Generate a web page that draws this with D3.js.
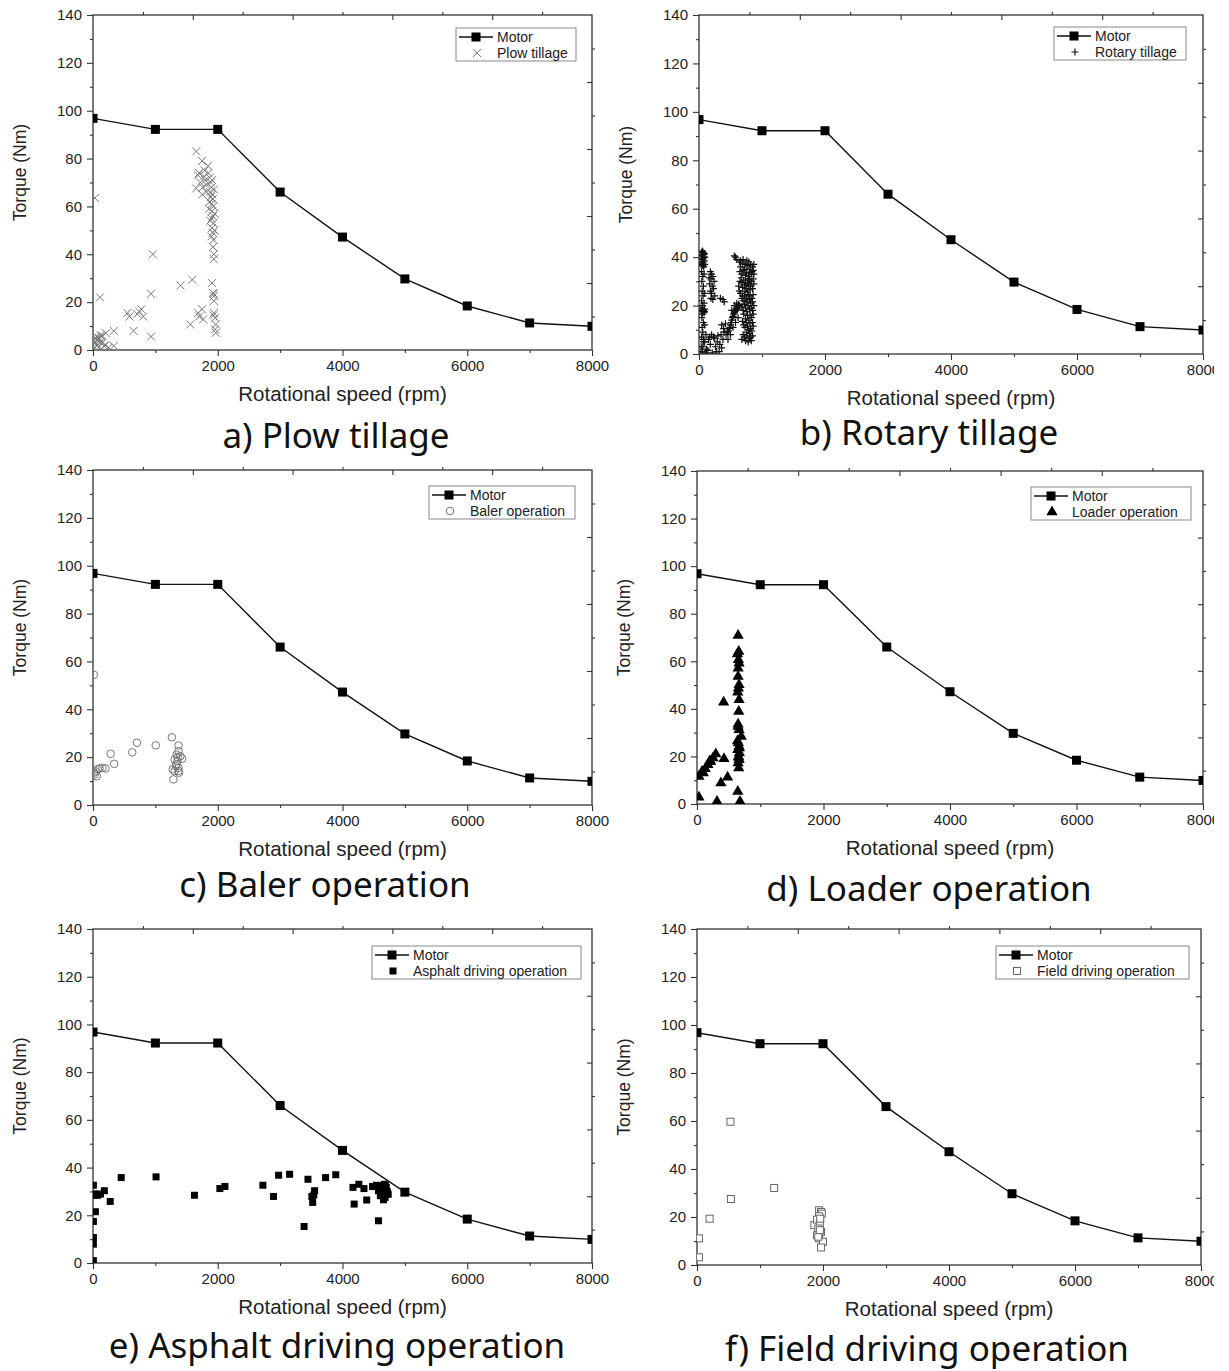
<!DOCTYPE html>
<html>
<head>
<meta charset="utf-8">
<script src="https://cdn.jsdelivr.net/npm/d3@7"></script>
<style>
  body { margin: 0; background: #fff; }
  svg { display: block; }
</style>
</head>
<body>
<div id="chart"></div>
<script>
// Motor torque curve (same in every panel)
const motorSpeed = [0, 1000, 2000, 3000, 4000, 5000, 6000, 7000, 8000];
const motorTorque = [96.8, 92.2, 92.2, 66, 47.2, 29.7, 18.4, 11.3, 9.9];

const xMajorTicks = [0, 2000, 4000, 6000, 8000];
const xMinorTicks = [1000, 3000, 5000, 7000];
const yMajorTicks = [0, 20, 40, 60, 80, 100, 120, 140];
const yMinorTicks = [10, 30, 50, 70, 90, 110, 130];

// operation points, [rpm, Nm]
const plowPoints = [
  [30, 63.5], [110, 22], [960, 40], [930, 23.5], [930, 5.6], [650, 8], [553, 15.5], [585, 14],
  [742, 16], [773, 17], [710, 15], [805, 14], [333, 8], [207, 7], [145, 6], [50, 4.5],
  [333, 1.7], [176, 1.7], [20, 3], [40, 5], [60, 5.5], [80, 4], [100, 5], [120, 6],
  [150, 3], [70, 2], [30, 1], [90, 1], [10, 4], [50, 2.5], [200, 2], [250, 1], [130, 3.5],
  [1402, 27], [1591, 29.4], [1560, 10.7], [1686, 15.5], [1748, 17], [1767, 12.8], [1700, 14],
  [1654, 83], [1748, 79], [1843, 77], [1686, 73], [1780, 72.5], [1654, 67.5], [1720, 70],
  [1760, 68], [1800, 71], [1820, 69], [1850, 74], [1870, 72], [1890, 70], [1900, 68],
  [1880, 66], [1910, 65], [1920, 63], [1900, 61], [1930, 60], [1910, 58], [1920, 56],
  [1900, 55], [1930, 53], [1910, 51], [1920, 49], [1900, 47.5], [1930, 46], [1925, 43],
  [1937, 40], [1937, 38], [1890, 64], [1940, 67], [1870, 62], [1950, 57], [1860, 59],
  [1945, 50], [1880, 54], [1910, 71], [1820, 66], [1790, 75], [1700, 74], [1750, 65],
  [1906, 28], [1937, 23.5], [1937, 22.5], [1937, 20.5], [1937, 15.5], [1956, 13.5],
  [1969, 10.7], [1956, 8.6], [1969, 7.2], [1930, 14.5], [1925, 23.8]
];

const rotaryPoints = [
  [40, 42], [60, 41], [80, 40], [50, 39], [70, 38], [90, 37], [60, 36.5], [45, 40.5], [85, 41.5], [75, 36],
  [35, 41], [55, 42.5], [65, 39.5], [85, 38.5], [45, 37], [75, 41], [55, 37.5], [90, 40], [35, 38], [65, 42],
  [70, 18], [80, 17], [60, 17.5], [90, 18.5], [40, 18], [50, 16.5], [85, 17.5],
  [40, 34], [60, 32], [45, 30], [70, 28], [50, 26], [65, 24], [40, 22], [80, 21], [55, 20], [45, 15],
  [70, 13], [50, 11], [60, 9], [40, 7], [75, 5], [35, 3], [55, 1], [80, 33], [85, 25], [30, 19], [90, 12],
  [180, 34], [200, 33], [220, 32], [190, 31], [240, 30], [170, 29], [210, 28], [230, 27], [180, 26],
  [200, 25], [250, 24], [190, 23], [220, 22.5], [160, 31.5],
  [30, 1], [60, 3], [90, 5], [120, 2], [150, 6], [180, 4], [200, 8], [230, 7], [260, 3], [290, 5],
  [320, 1], [350, 8], [380, 6], [100, 0.5], [140, 1.5], [210, 0.5], [250, 6.5], [300, 7.5], [330, 4],
  [170, 7], [110, 8], [70, 6], [400, 9], [360, 2.5], [280, 1],
  [340, 23], [380, 22.5], [400, 21.5], [360, 12], [390, 10.5], [420, 12.5],
  [450, 9], [480, 10.5], [500, 12], [520, 14], [540, 15.5], [560, 17], [580, 18], [600, 19],
  [620, 19.5], [640, 20], [520, 18], [560, 20], [600, 21],
  [430, 8], [470, 9.5], [490, 11], [510, 13], [530, 15], [550, 16.5], [570, 17.5], [590, 18.5],
  [610, 18.5], [630, 20.5], [460, 6], [500, 8], [540, 11], [580, 13], [620, 15],
  [560, 40.5], [580, 40], [600, 39],
  [640, 38], [700, 39], [760, 38.5], [820, 37], [660, 36], [720, 35], [780, 36.5], [840, 34],
  [680, 33], [740, 32.5], [800, 33.5], [860, 31], [650, 30], [710, 30.5], [770, 29], [830, 30],
  [870, 29], [690, 27.5], [750, 27], [810, 26.5], [660, 25], [720, 24], [780, 24.5], [840, 23],
  [700, 22], [760, 21.5], [820, 21], [680, 19.5], [740, 19], [800, 18.5], [850, 18], [710, 16.5],
  [770, 16], [830, 15], [690, 13.5], [750, 13], [810, 12.5], [730, 11], [790, 10], [840, 9.5],
  [700, 8], [760, 7.5], [820, 7], [680, 6], [740, 5.5], [800, 6.5], [860, 11.5], [630, 28],
  [650, 34], [850, 27], [870, 20], [720, 28.5], [780, 31], [760, 35],
  [660, 38.5], [690, 37.5], [730, 37], [790, 38], [810, 35], [850, 36], [670, 31.5], [700, 34.5],
  [750, 33.5], [790, 32], [830, 33], [860, 34.5], [640, 26], [680, 29.5], [730, 26], [790, 28],
  [820, 28.5], [860, 24.5], [690, 24], [750, 23], [800, 22.5], [850, 21.5], [720, 20.5], [780, 20],
  [830, 19], [860, 16.5], [700, 18], [760, 17.5], [810, 16], [740, 14.5], [790, 14], [850, 13],
  [710, 12], [770, 11.5], [820, 10.5], [760, 9], [800, 8.5], [850, 7.5], [720, 7], [780, 5],
  [830, 5.5], [870, 37], [870, 33], [740, 29.5], [800, 30.5], [680, 23], [770, 25.5], [730, 22], [810, 24]
];

const balerPoints = [
  [13, 54.4], [30, 12.8], [44, 14], [75, 15], [107, 15.3], [151, 15.5], [200, 15.3], [63, 12],
  [13, 13.5], [283, 21.4], [340, 17.2], [629, 22], [704, 26], [1006, 24.9], [1264, 28.3],
  [1289, 10.7], [1277, 14.9], [1371, 24.9], [1371, 22.5], [1340, 21], [1400, 20.4], [1308, 19],
  [1428, 19.4], [1340, 17], [1371, 15.5], [1371, 14.2], [1327, 16.3], [1352, 18.3], [1308, 14.2],
  [1355, 20], [1380, 13.5]
];

const loaderPoints = [
  [31, 2.8], [31, 11.6], [80, 13.7], [130, 14.8], [173, 16.5], [217, 17.9], [254, 19.3], [297, 21],
  [316, 1.1], [378, 8.8], [421, 42.8], [427, 19], [483, 11.2], [650, 70.8], [660, 64.1], [640, 63.1],
  [655, 60.6], [665, 59.2], [650, 57.1], [650, 53.6], [665, 50.1], [655, 48.7], [645, 47],
  [665, 43.8], [660, 38.9], [650, 32.6], [665, 31.2], [700, 28.4], [655, 25.6], [665, 24.2],
  [645, 22.8], [670, 21.4], [655, 20], [665, 18.6], [650, 17.2], [660, 15.1], [645, 5.3],
  [680, 1.1], [640, 26.5], [670, 23.5], [100, 13], [200, 18], [660, 19.5], [650, 33.5]
];

const asphaltPoints = [
  [6, 32.6], [13, 28.4], [38, 21.5], [6, 17.4], [6, 10.7], [6, 7.9], [6, 1], [75, 28.4], [119, 28.9],
  [182, 30.3], [276, 25.8], [452, 35.8], [1011, 36.1], [1626, 28.4], [2034, 31.2], [2115, 32.1],
  [2724, 32.6], [2894, 27.9], [2976, 36.8], [3152, 37.2], [3384, 15.3], [3446, 35.1], [3509, 27.9],
  [3522, 25.4], [3553, 30.3], [3540, 28.5], [3729, 35.8], [3892, 37], [4168, 31.7], [4187, 24.7],
  [4262, 33], [4344, 31.2], [4388, 26.4], [4482, 32.1], [4576, 17.7], [4545, 32.6], [4607, 32.4],
  [4670, 33], [4702, 31.7], [4576, 30.3], [4639, 29.6], [4720, 29.8], [4607, 28.2], [4683, 27.5],
  [4658, 26.5], [4733, 28.8], [4520, 32], [4690, 32.4], [25, 29]
];

const fieldPoints = [
  [31, 11.1], [31, 3.2], [200, 19.3], [531, 59.7], [538, 27.5], [1225, 32.1], [1863, 16.6],
  [1938, 22.8], [1969, 22.1], [1981, 21.4], [1938, 20.3], [1906, 18.9], [1950, 17.3], [1925, 15.2],
  [1969, 13.8], [1906, 12.4], [1938, 11.1], [2000, 9.7], [1969, 7.3], [1925, 11.8], [1956, 19.3],
  [1950, 14.5]
];

// panel layout: frame = [left, top, width, height], legend = [x, y, width], title_at = [cx, baseline]
const panels = [
  { id: 'a', title: 'a) Plow tillage', name: 'Plow tillage', points: plowPoints, marker: 'x',
    frame: [93, 15, 499, 335], legend: [456, 28, 120], title_at: [336, 448] },
  { id: 'b', title: 'b) Rotary tillage', name: 'Rotary tillage', points: rotaryPoints, marker: 'plus',
    frame: [699, 15, 504, 339], legend: [1054, 27, 132], title_at: [929, 445] },
  { id: 'c', title: 'c) Baler operation', name: 'Baler operation', points: balerPoints, marker: 'circle',
    frame: [93, 470, 499, 335], legend: [429, 486, 146], title_at: [325, 897] },
  { id: 'd', title: 'd) Loader operation', name: 'Loader operation', points: loaderPoints, marker: 'triangle',
    frame: [697, 471, 506, 333], legend: [1031, 487, 160], title_at: [929, 901] },
  { id: 'e', title: 'e) Asphalt driving operation', name: 'Asphalt driving operation', points: asphaltPoints, marker: 'square',
    frame: [93, 929, 499, 334], legend: [372, 946, 209], title_at: [337, 1358] },
  { id: 'f', title: 'f) Field driving operation', name: 'Field driving operation', points: fieldPoints, marker: 'open-square',
    frame: [697, 929, 504, 336], legend: [996, 946, 193], title_at: [927, 1361] }
];

const svg = d3.select('#chart').append('svg')
  .attr('width', 1214)
  .attr('height', 1371);

const axisFont = '"Liberation Sans", Arial, sans-serif';

function drawMarker(sel, type) {
  if (type === 'x') {
    sel.append('path').attr('d', 'M-4,-4L4,4M-4,4L4,-4')
      .attr('fill', 'none').attr('stroke', '#7a7a7a').attr('stroke-width', 1);
  } else if (type === 'plus') {
    sel.append('path').attr('d', 'M-3.5,0H3.5M0,-3.5V3.5')
      .attr('fill', 'none').attr('stroke', '#111').attr('stroke-width', 1.2);
  } else if (type === 'circle') {
    sel.append('circle').attr('r', 3.8)
      .attr('fill', 'none').attr('stroke', '#777').attr('stroke-width', 1);
  } else if (type === 'triangle') {
    sel.append('path').attr('d', d3.symbol(d3.symbolTriangle, 55)())
      .attr('fill', '#000');
  } else if (type === 'square') {
    sel.append('rect').attr('x', -3.5).attr('y', -3.5).attr('width', 7).attr('height', 7)
      .attr('fill', '#000');
  } else if (type === 'open-square') {
    sel.append('rect').attr('x', -3.5).attr('y', -3.5).attr('width', 7).attr('height', 7)
      .attr('fill', '#fff').attr('stroke', '#666').attr('stroke-width', 1);
  } else if (type === 'motor') {
    sel.append('rect').attr('x', -4.5).attr('y', -4.5).attr('width', 9).attr('height', 9)
      .attr('fill', '#000');
  }
}

function styleAxis(g) {
  g.select('.domain').remove();
  g.selectAll('.tick line').attr('stroke', '#333').attr('stroke-width', 1.1);
  g.selectAll('.tick text')
    .attr('fill', '#222')
    .style('font-family', axisFont)
    .style('font-size', '15px');
}

panels.forEach(p => {
  const [left, top, w, h] = p.frame;
  const x = d3.scaleLinear().domain([0, 8000]).range([left, left + w]);
  const y = d3.scaleLinear().domain([0, 140]).range([top + h, top]);
  // second (overlay) layer scales, only ticks on the top and right edges
  const x2 = d3.scaleLinear().domain([0, 10]).range([left, left + w]);
  const y2 = d3.scaleLinear().domain([0, 10]).range([top + h, top]);

  const g = svg.append('g').attr('class', 'panel-' + p.id);

  // bottom axis
  g.append('g').attr('transform', `translate(0,${top + h})`)
    .call(d3.axisBottom(x).tickValues(xMajorTicks).tickSize(6).tickPadding(4).tickFormat(d3.format('d')))
    .call(styleAxis);
  g.append('g').attr('transform', `translate(0,${top + h})`)
    .call(d3.axisBottom(x).tickValues(xMinorTicks).tickSize(3).tickFormat(''))
    .call(styleAxis);

  // left axis
  g.append('g').attr('transform', `translate(${left},0)`)
    .call(d3.axisLeft(y).tickValues(yMajorTicks).tickSize(6).tickPadding(5).tickFormat(d3.format('d')))
    .call(styleAxis);
  g.append('g').attr('transform', `translate(${left},0)`)
    .call(d3.axisLeft(y).tickValues(yMinorTicks).tickSize(3).tickFormat(''))
    .call(styleAxis);

  // top and right axes (overlay layer)
  g.append('g').attr('transform', `translate(0,${top})`)
    .call(d3.axisTop(x2).tickValues([2, 4, 6, 8]).tickSize(-5).tickFormat(''))
    .call(styleAxis);
  g.append('g').attr('transform', `translate(0,${top})`)
    .call(d3.axisTop(x2).tickValues([1, 3, 5, 7, 9]).tickSize(3).tickFormat(''))
    .call(styleAxis);
  g.append('g').attr('transform', `translate(${left + w},0)`)
    .call(d3.axisRight(y2).tickValues([2, 4, 6, 8]).tickSize(-5).tickFormat(''))
    .call(styleAxis);
  g.append('g').attr('transform', `translate(${left + w},0)`)
    .call(d3.axisRight(y2).tickValues([1, 3, 5, 7, 9]).tickSize(3).tickFormat(''))
    .call(styleAxis);

  // frame
  g.append('rect')
    .attr('x', left).attr('y', top).attr('width', w).attr('height', h)
    .attr('fill', 'none').attr('stroke', '#333').attr('stroke-width', 1.3);

  // clip for data
  g.append('clipPath').attr('id', 'clip-' + p.id)
    .append('rect').attr('x', left).attr('y', top).attr('width', w).attr('height', h);

  const plot = g.append('g').attr('clip-path', `url(#clip-${p.id})`);

  // operation points
  plot.selectAll('g.pt')
    .data(p.points)
    .join('g')
    .attr('class', 'pt')
    .attr('transform', d => `translate(${x(d[0])},${y(d[1])})`)
    .each(function () { drawMarker(d3.select(this), p.marker); });

  // motor curve
  const motor = motorSpeed.map((s, i) => [s, motorTorque[i]]);
  plot.append('path')
    .datum(motor)
    .attr('d', d3.line().x(d => x(d[0])).y(d => y(d[1])))
    .attr('fill', 'none')
    .attr('stroke', '#111')
    .attr('stroke-width', 1.4);
  plot.selectAll('g.motor')
    .data(motor)
    .join('g')
    .attr('class', 'motor')
    .attr('transform', d => `translate(${x(d[0])},${y(d[1])})`)
    .each(function () { drawMarker(d3.select(this), 'motor'); });

  // axis titles
  g.append('text')
    .attr('x', left + w / 2)
    .attr('y', top + h + 51)
    .attr('text-anchor', 'middle')
    .style('font-family', axisFont)
    .style('font-size', '20.5px')
    .attr('fill', '#222')
    .text('Rotational speed (rpm)');
  g.append('text')
    .attr('transform', `translate(${left - 67},${top + h / 2 - 10}) rotate(-90)`)
    .attr('text-anchor', 'middle')
    .style('font-family', axisFont)
    .style('font-size', '17.5px')
    .attr('fill', '#222')
    .text('Torque (Nm)');

  // legend
  const [lx, ly, lw] = p.legend;
  const lg = g.append('g');
  lg.append('rect')
    .attr('x', lx).attr('y', ly).attr('width', lw).attr('height', 33)
    .attr('fill', '#fff').attr('stroke', '#888').attr('stroke-width', 1);
  lg.append('line')
    .attr('x1', lx + 3).attr('x2', lx + 37)
    .attr('y1', ly + 9).attr('y2', ly + 9)
    .attr('stroke', '#111').attr('stroke-width', 1.4);
  drawMarker(lg.append('g').attr('transform', `translate(${lx + 20},${ly + 9})`), 'motor');
  drawMarker(lg.append('g').attr('transform', `translate(${lx + 21},${ly + 25})`), p.marker);
  lg.selectAll('text.leg')
    .data(['Motor', p.name])
    .join('text')
    .attr('class', 'leg')
    .attr('x', lx + 41)
    .attr('y', (d, i) => ly + 13.5 + i * 16)
    .style('font-family', axisFont)
    .style('font-size', '14px')
    .attr('fill', '#222')
    .text(d => d);

  // panel caption
  g.append('text')
    .attr('x', p.title_at[0])
    .attr('y', p.title_at[1])
    .attr('text-anchor', 'middle')
    .style('font-family', '"Noto Sans", sans-serif')
    .style('font-size', '35px')
    .attr('fill', '#111')
    .text(p.title);
});
</script>
</body>
</html>
